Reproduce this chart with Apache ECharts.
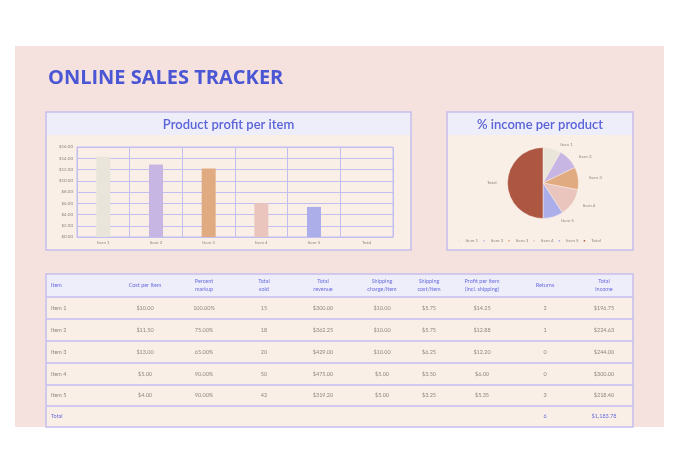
<!DOCTYPE html>
<html><head><meta charset="utf-8">
<script src="https://cdn.jsdelivr.net/npm/echarts@6/dist/echarts.min.js"></script>
<style>html,body{margin:0;padding:0;background:#fff}#c{width:680px;height:474px}</style>
</head><body><div id="c"></div>
<script>
// ---- data ----
const items = ['Item 1', 'Item 2', 'Item 3', 'Item 4', 'Item 5'];
const categories = ['Item 1', 'Item 2', 'Item 3', 'Item 4', 'Item 5', 'Total'];
const costPerItem = [10.00, 11.50, 13.00, 5.00, 4.00];
const percentMarkup = [100, 75, 65, 90, 90];
const totalSold = [15, 18, 20, 50, 42];
const totalRevenue = [300.00, 362.25, 429.00, 475.00, 319.20];
const shippingCharge = [10.00, 10.00, 10.00, 5.00, 5.00];
const shippingCost = [5.75, 5.75, 6.25, 3.50, 3.25];
const profitPerItem = [14.25, 12.88, 12.20, 6.00, 5.35];
const returns = [2, 1, 0, 0, 3];
const totalIncome = [196.75, 224.63, 244.00, 300.00, 218.40];
const totalReturns = 6;
const totalIncomeSum = 1183.78;
const headers = ['Item', 'Cost per Item', 'Percent\nmarkup', 'Total\nsold', 'Total\nrevenue',
  'Shipping\ncharge/item', 'Shipping\ncost/item', 'Profit per item\n(incl. shipping)', 'Returns', 'Total\nincome'];
const yTicks = [0, 2, 4, 6, 8, 10, 12, 14, 16];

// ---- style ----
const colors = ['#e9e5db', '#c7b5e3', '#e1ab82', '#e9c5bd', '#abaee9', '#ad5641'];
const FONT = 'Lato, "Open Sans", sans-serif';
const LAV = '#c3bef0';
const HEAD_BG = '#eeedfa';
const BOX_BG = '#faefe7';
const HEAD_TXT = '#6a6ede';
const DATA_TXT = '#8d8782';

const money = v => '$' + v.toLocaleString('en-US', {minimumFractionDigits: 2, maximumFractionDigits: 2});
const pct = v => v.toFixed(2) + '%';

const graphic = [];
// page panel
graphic.push({type: 'rect', z: -20, shape: {x: 15, y: 46, width: 649, height: 381}, style: {fill: '#f5e1de'}});
graphic.push({type: 'text', z: 5, style: {text: 'ONLINE SALES TRACKER', x: 48, y: 78, fill: '#4a56d4',
  font: 'bold 20px "Open Sans", sans-serif', textAlign: 'left', textVerticalAlign: 'middle', align: 'left', verticalAlign: 'middle'}});

function box(x, y, w, h, title) {
  graphic.push({type: 'rect', z: -10, shape: {x, y, width: w, height: h}, style: {fill: BOX_BG, stroke: LAV, lineWidth: 1.5}});
  graphic.push({type: 'rect', z: -9, shape: {x: x + 1, y: y + 1, width: w - 2, height: 22}, style: {fill: HEAD_BG}});
  graphic.push({type: 'text', z: 5, style: {text: title, x: x + w / 2, y: y + 12.5, fill: '#5a63d8',
    font: '600 13px ' + FONT, textAlign: 'center', textVerticalAlign: 'middle', align: 'center', verticalAlign: 'middle'}});
}
box(46, 112, 365, 138, 'Product profit per item');
box(447, 112, 186, 138, '% income per product');

// table
const tX = 46, tY = 274, tW = 587;
const rowBounds = [274, 297, 319, 341, 363, 385, 406, 427];
const colX = [51, 145, 204, 264, 323, 382, 429, 482, 545, 604];
graphic.push({type: 'rect', z: -10, shape: {x: tX, y: tY, width: tW, height: 427 - tY}, style: {fill: BOX_BG, stroke: LAV, lineWidth: 1.5}});
graphic.push({type: 'rect', z: -9, shape: {x: tX + 1, y: tY + 1, width: tW - 2, height: 22}, style: {fill: HEAD_BG}});
for (let i = 1; i < rowBounds.length - 1; i++) {
  graphic.push({type: 'line', z: -8, shape: {x1: tX, y1: rowBounds[i], x2: tX + tW, y2: rowBounds[i]}, style: {stroke: LAV, lineWidth: 1.5}});
}
function cell(txt, col, yc, color) {
  graphic.push({type: 'text', z: 5, style: {text: txt, x: colX[col], y: yc, fill: color, font: '5.5px ' + FONT,
    textAlign: col === 0 ? 'left' : 'center', textVerticalAlign: 'middle', align: col === 0 ? 'left' : 'center', verticalAlign: 'middle', lineHeight: 8}});
}
headers.forEach((h, c) => cell(h, c, (rowBounds[0] + rowBounds[1]) / 2, HEAD_TXT));
items.forEach((it, r) => {
  const yc = (rowBounds[r + 1] + rowBounds[r + 2]) / 2;
  const vals = [it, money(costPerItem[r]), pct(percentMarkup[r]), String(totalSold[r]), money(totalRevenue[r]),
    money(shippingCharge[r]), money(shippingCost[r]), money(profitPerItem[r]), String(returns[r]), money(totalIncome[r])];
  vals.forEach((v, c) => cell(v, c, yc, DATA_TXT));
});
{
  const yc = (rowBounds[6] + rowBounds[7]) / 2;
  cell('Total', 0, yc, HEAD_TXT);
  cell(String(totalReturns), 8, yc, HEAD_TXT);
  cell(money(totalIncomeSum), 9, yc, HEAD_TXT);
}

const chart = echarts.init(document.getElementById('c'), null, {renderer: 'canvas'});
chart.setOption({
  backgroundColor: '#ffffff',
  animation: false,
  textStyle: {fontFamily: FONT},
  graphic: graphic,
  grid: {left: 77, top: 147, right: 287, bottom: 237, show: true, borderColor: LAV, borderWidth: 1, containLabel: false},
  xAxis: {type: 'category', data: categories,
    axisLine: {lineStyle: {color: LAV}}, axisTick: {show: false},
    axisLabel: {fontSize: 4.5, color: DATA_TXT, margin: 3},
    splitLine: {show: true, lineStyle: {color: LAV, width: 1}}},
  yAxis: {type: 'value', min: 0, max: 16, interval: 2,
    axisLine: {show: true, lineStyle: {color: LAV}},
    axisLabel: {fontSize: 4.5, color: DATA_TXT, margin: 4, formatter: v => money(v)},
    splitLine: {lineStyle: {color: LAV, width: 1}}},
  legend: {left: 456, top: 238, itemWidth: 3.5, itemHeight: 3.5, itemGap: 3, icon: 'rect', padding: 0,
    textStyle: {fontSize: 4.5, color: DATA_TXT, width: 17},
    data: categories},
  series: [
    {type: 'bar', barWidth: 14, silent: true,
      data: categories.map((c, i) => ({value: i < profitPerItem.length ? profitPerItem[i] : '-', itemStyle: {color: colors[i]}}))},
    {type: 'pie', center: [543, 183], radius: 35.5, startAngle: 90, clockwise: true,
      itemStyle: {borderColor: '#faefe7', borderWidth: 0.5},
      label: {show: true, position: 'outside', fontSize: 4.5, color: DATA_TXT},
      labelLine: {show: false, length: 4, length2: 2},
      data: categories.map((c, i) => ({name: c, value: i < totalIncome.length ? totalIncome[i] : totalIncomeSum, itemStyle: {color: colors[i]}}))}
  ]
});
</script>
</body></html>
